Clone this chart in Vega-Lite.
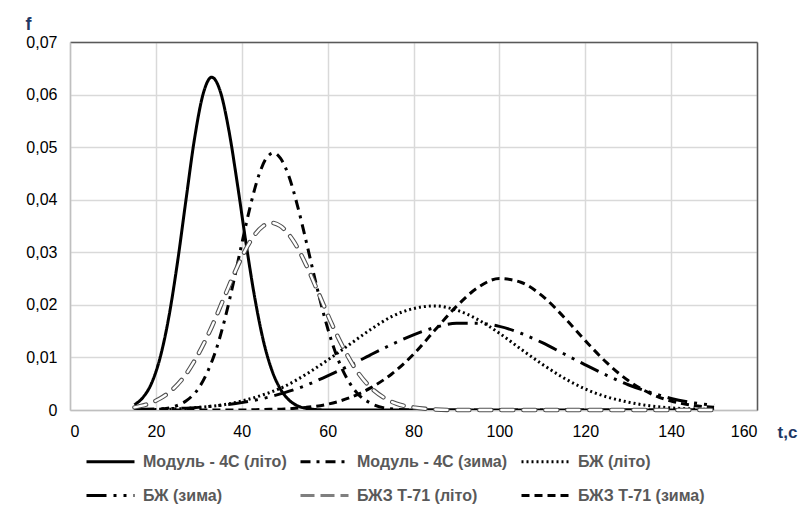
{
  "$schema": "https://vega.github.io/schema/vega-lite/v6.json",
  "width": 687,
  "height": 368,
  "autosize": {"type": "none"},
  "padding": {"left": 70, "top": 42, "right": 50, "bottom": 102},
  "background": "white",
  "config": {
    "view": {"stroke": null},
    "font": "Liberation Sans",
    "axis": {"ticks": false, "labelFontSize": 16, "labelColor": "#000000", "labelFont": "Liberation Sans", "gridColor": "#d9d9d9", "gridWidth": 1.5, "domainColor": "#bfbfbf", "domainWidth": 1.5},
    "legend": {"orient": "none", "direction": "horizontal", "legendX": 15, "legendY": 394, "columns": 3, "columnPadding": 7, "rowPadding": -28, "symbolType": "stroke", "symbolSize": 2304, "labelFontSize": 16, "labelFontWeight": "bold", "labelColor": "#595959", "labelOffset": 7, "labelLimit": 400, "title": null}
  },
  "data": {"values": [
    {"series": "Модуль - 4С (літо)", "t": 15, "f": 0.0010},
    {"series": "Модуль - 4С (літо)", "t": 17, "f": 0.0024},
    {"series": "Модуль - 4С (літо)", "t": 19, "f": 0.0051},
    {"series": "Модуль - 4С (літо)", "t": 21, "f": 0.0100},
    {"series": "Модуль - 4С (літо)", "t": 23, "f": 0.0176},
    {"series": "Модуль - 4С (літо)", "t": 25, "f": 0.0279},
    {"series": "Модуль - 4С (літо)", "t": 27, "f": 0.0399},
    {"series": "Модуль - 4С (літо)", "t": 29, "f": 0.0516},
    {"series": "Модуль - 4С (літо)", "t": 31, "f": 0.0601},
    {"series": "Модуль - 4С (літо)", "t": 33, "f": 0.0633},
    {"series": "Модуль - 4С (літо)", "t": 35, "f": 0.0606},
    {"series": "Модуль - 4С (літо)", "t": 37, "f": 0.0532},
    {"series": "Модуль - 4С (літо)", "t": 39, "f": 0.0429},
    {"series": "Модуль - 4С (літо)", "t": 41, "f": 0.0317},
    {"series": "Модуль - 4С (літо)", "t": 43, "f": 0.0215},
    {"series": "Модуль - 4С (літо)", "t": 45, "f": 0.0133},
    {"series": "Модуль - 4С (літо)", "t": 47, "f": 0.0076},
    {"series": "Модуль - 4С (літо)", "t": 49, "f": 0.0040},
    {"series": "Модуль - 4С (літо)", "t": 51, "f": 0.0019},
    {"series": "Модуль - 4С (літо)", "t": 53, "f": 0.0008},
    {"series": "Модуль - 4С (літо)", "t": 56, "f": 0.0002},
    {"series": "Модуль - 4С (літо)", "t": 60, "f": 0},
    {"series": "Модуль - 4С (літо)", "t": 70, "f": 0},
    {"series": "Модуль - 4С (літо)", "t": 80, "f": 0},
    {"series": "Модуль - 4С (літо)", "t": 90, "f": 0},
    {"series": "Модуль - 4С (літо)", "t": 100, "f": 0},
    {"series": "Модуль - 4С (літо)", "t": 110, "f": 0},
    {"series": "Модуль - 4С (літо)", "t": 120, "f": 0},
    {"series": "Модуль - 4С (літо)", "t": 130, "f": 0},
    {"series": "Модуль - 4С (літо)", "t": 140, "f": 0},
    {"series": "Модуль - 4С (літо)", "t": 150, "f": 0},

    {"series": "Модуль - 4С (зима)", "t": 15, "f": 0},
    {"series": "Модуль - 4С (зима)", "t": 20, "f": 0.0001},
    {"series": "Модуль - 4С (зима)", "t": 24, "f": 0.0006},
    {"series": "Модуль - 4С (зима)", "t": 27, "f": 0.0017},
    {"series": "Модуль - 4С (зима)", "t": 30, "f": 0.0042},
    {"series": "Модуль - 4С (зима)", "t": 32, "f": 0.0072},
    {"series": "Модуль - 4С (зима)", "t": 34, "f": 0.0114},
    {"series": "Модуль - 4С (зима)", "t": 36, "f": 0.0171},
    {"series": "Модуль - 4С (зима)", "t": 38, "f": 0.0240},
    {"series": "Модуль - 4С (зима)", "t": 40, "f": 0.0316},
    {"series": "Модуль - 4С (зима)", "t": 42, "f": 0.0388},
    {"series": "Модуль - 4С (зима)", "t": 44, "f": 0.0447},
    {"series": "Модуль - 4С (зима)", "t": 46, "f": 0.0482},
    {"series": "Модуль - 4С (зима)", "t": 47.5, "f": 0.0489},
    {"series": "Модуль - 4С (зима)", "t": 49, "f": 0.0479},
    {"series": "Модуль - 4С (зима)", "t": 51, "f": 0.0444},
    {"series": "Модуль - 4С (зима)", "t": 53, "f": 0.0388},
    {"series": "Модуль - 4С (зима)", "t": 55, "f": 0.0321},
    {"series": "Модуль - 4С (зима)", "t": 57, "f": 0.0251},
    {"series": "Модуль - 4С (зима)", "t": 59, "f": 0.0185},
    {"series": "Модуль - 4С (зима)", "t": 61, "f": 0.0129},
    {"series": "Модуль - 4С (зима)", "t": 63, "f": 0.0085},
    {"series": "Модуль - 4С (зима)", "t": 65, "f": 0.0053},
    {"series": "Модуль - 4С (зима)", "t": 67, "f": 0.0031},
    {"series": "Модуль - 4С (зима)", "t": 70, "f": 0.0013},
    {"series": "Модуль - 4С (зима)", "t": 74, "f": 0.0003},
    {"series": "Модуль - 4С (зима)", "t": 80, "f": 0},
    {"series": "Модуль - 4С (зима)", "t": 90, "f": 0},
    {"series": "Модуль - 4С (зима)", "t": 100, "f": 0},
    {"series": "Модуль - 4С (зима)", "t": 110, "f": 0},
    {"series": "Модуль - 4С (зима)", "t": 120, "f": 0},
    {"series": "Модуль - 4С (зима)", "t": 130, "f": 0},
    {"series": "Модуль - 4С (зима)", "t": 140, "f": 0},
    {"series": "Модуль - 4С (зима)", "t": 150, "f": 0},

    {"series": "БЖ (літо)", "t": 15, "f": 0.0001},
    {"series": "БЖ (літо)", "t": 20, "f": 0.0001},
    {"series": "БЖ (літо)", "t": 25, "f": 0.0002},
    {"series": "БЖ (літо)", "t": 30, "f": 0.0005},
    {"series": "БЖ (літо)", "t": 35, "f": 0.0009},
    {"series": "БЖ (літо)", "t": 40, "f": 0.0017},
    {"series": "БЖ (літо)", "t": 45, "f": 0.0029},
    {"series": "БЖ (літо)", "t": 50, "f": 0.0045},
    {"series": "БЖ (літо)", "t": 55, "f": 0.0068},
    {"series": "БЖ (літо)", "t": 60, "f": 0.0095},
    {"series": "БЖ (літо)", "t": 65, "f": 0.0124},
    {"series": "БЖ (літо)", "t": 70, "f": 0.0153},
    {"series": "БЖ (літо)", "t": 75, "f": 0.0178},
    {"series": "БЖ (літо)", "t": 80, "f": 0.0193},
    {"series": "БЖ (літо)", "t": 85, "f": 0.0198},
    {"series": "БЖ (літо)", "t": 90, "f": 0.0190},
    {"series": "БЖ (літо)", "t": 95, "f": 0.0172},
    {"series": "БЖ (літо)", "t": 100, "f": 0.0146},
    {"series": "БЖ (літо)", "t": 105, "f": 0.0116},
    {"series": "БЖ (літо)", "t": 110, "f": 0.0087},
    {"series": "БЖ (літо)", "t": 115, "f": 0.0061},
    {"series": "БЖ (літо)", "t": 120, "f": 0.0040},
    {"series": "БЖ (літо)", "t": 125, "f": 0.0025},
    {"series": "БЖ (літо)", "t": 130, "f": 0.0015},
    {"series": "БЖ (літо)", "t": 135, "f": 0.0008},
    {"series": "БЖ (літо)", "t": 140, "f": 0.0004},
    {"series": "БЖ (літо)", "t": 145, "f": 0.0002},
    {"series": "БЖ (літо)", "t": 150, "f": 0.0001},

    {"series": "БЖ (зима)", "t": 15, "f": 0.0001},
    {"series": "БЖ (зима)", "t": 20, "f": 0.0002},
    {"series": "БЖ (зима)", "t": 25, "f": 0.0003},
    {"series": "БЖ (зима)", "t": 30, "f": 0.0005},
    {"series": "БЖ (зима)", "t": 35, "f": 0.0009},
    {"series": "БЖ (зима)", "t": 40, "f": 0.0014},
    {"series": "БЖ (зима)", "t": 45, "f": 0.0022},
    {"series": "БЖ (зима)", "t": 50, "f": 0.0033},
    {"series": "БЖ (зима)", "t": 55, "f": 0.0047},
    {"series": "БЖ (зима)", "t": 60, "f": 0.0065},
    {"series": "БЖ (зима)", "t": 65, "f": 0.0084},
    {"series": "БЖ (зима)", "t": 70, "f": 0.0105},
    {"series": "БЖ (зима)", "t": 75, "f": 0.0125},
    {"series": "БЖ (зима)", "t": 80, "f": 0.0143},
    {"series": "БЖ (зима)", "t": 85, "f": 0.0157},
    {"series": "БЖ (зима)", "t": 90, "f": 0.0165},
    {"series": "БЖ (зима)", "t": 95, "f": 0.0165},
    {"series": "БЖ (зима)", "t": 100, "f": 0.0159},
    {"series": "БЖ (зима)", "t": 105, "f": 0.0146},
    {"series": "БЖ (зима)", "t": 110, "f": 0.0128},
    {"series": "БЖ (зима)", "t": 115, "f": 0.0107},
    {"series": "БЖ (зима)", "t": 120, "f": 0.0086},
    {"series": "БЖ (зима)", "t": 125, "f": 0.0066},
    {"series": "БЖ (зима)", "t": 130, "f": 0.0048},
    {"series": "БЖ (зима)", "t": 135, "f": 0.0034},
    {"series": "БЖ (зима)", "t": 140, "f": 0.0022},
    {"series": "БЖ (зима)", "t": 145, "f": 0.0014},
    {"series": "БЖ (зима)", "t": 150, "f": 0.0009},

    {"series": "БЖЗ Т-71 (літо)", "t": 15, "f": 0.0005},
    {"series": "БЖЗ Т-71 (літо)", "t": 18, "f": 0.0011},
    {"series": "БЖЗ Т-71 (літо)", "t": 21, "f": 0.0022},
    {"series": "БЖЗ Т-71 (літо)", "t": 24, "f": 0.0040},
    {"series": "БЖЗ Т-71 (літо)", "t": 27, "f": 0.0068},
    {"series": "БЖЗ Т-71 (літо)", "t": 30, "f": 0.0108},
    {"series": "БЖЗ Т-71 (літо)", "t": 33, "f": 0.0158},
    {"series": "БЖЗ Т-71 (літо)", "t": 36, "f": 0.0216},
    {"series": "БЖЗ Т-71 (літо)", "t": 39, "f": 0.0273},
    {"series": "БЖЗ Т-71 (літо)", "t": 42, "f": 0.0321},
    {"series": "БЖЗ Т-71 (літо)", "t": 45, "f": 0.0350},
    {"series": "БЖЗ Т-71 (літо)", "t": 47, "f": 0.0356},
    {"series": "БЖЗ Т-71 (літо)", "t": 49, "f": 0.0350},
    {"series": "БЖЗ Т-71 (літо)", "t": 52, "f": 0.0322},
    {"series": "БЖЗ Т-71 (літо)", "t": 55, "f": 0.0276},
    {"series": "БЖЗ Т-71 (літо)", "t": 58, "f": 0.0220},
    {"series": "БЖЗ Т-71 (літо)", "t": 61, "f": 0.0163},
    {"series": "БЖЗ Т-71 (літо)", "t": 64, "f": 0.0113},
    {"series": "БЖЗ Т-71 (літо)", "t": 67, "f": 0.0072},
    {"series": "БЖЗ Т-71 (літо)", "t": 70, "f": 0.0043},
    {"series": "БЖЗ Т-71 (літо)", "t": 73, "f": 0.0024},
    {"series": "БЖЗ Т-71 (літо)", "t": 76, "f": 0.0012},
    {"series": "БЖЗ Т-71 (літо)", "t": 80, "f": 0.0005},
    {"series": "БЖЗ Т-71 (літо)", "t": 85, "f": 0.0001},
    {"series": "БЖЗ Т-71 (літо)", "t": 90, "f": 0},
    {"series": "БЖЗ Т-71 (літо)", "t": 100, "f": 0},
    {"series": "БЖЗ Т-71 (літо)", "t": 110, "f": 0},
    {"series": "БЖЗ Т-71 (літо)", "t": 120, "f": 0},
    {"series": "БЖЗ Т-71 (літо)", "t": 130, "f": 0},
    {"series": "БЖЗ Т-71 (літо)", "t": 140, "f": 0},
    {"series": "БЖЗ Т-71 (літо)", "t": 150, "f": 0},

    {"series": "БЖЗ Т-71 (зима)", "t": 15, "f": 0},
    {"series": "БЖЗ Т-71 (зима)", "t": 20, "f": 0},
    {"series": "БЖЗ Т-71 (зима)", "t": 25, "f": 0},
    {"series": "БЖЗ Т-71 (зима)", "t": 30, "f": 0},
    {"series": "БЖЗ Т-71 (зима)", "t": 35, "f": 0},
    {"series": "БЖЗ Т-71 (зима)", "t": 40, "f": 0},
    {"series": "БЖЗ Т-71 (зима)", "t": 45, "f": 0.0001},
    {"series": "БЖЗ Т-71 (зима)", "t": 50, "f": 0.0002},
    {"series": "БЖЗ Т-71 (зима)", "t": 55, "f": 0.0005},
    {"series": "БЖЗ Т-71 (зима)", "t": 60, "f": 0.0011},
    {"series": "БЖЗ Т-71 (зима)", "t": 65, "f": 0.0023},
    {"series": "БЖЗ Т-71 (зима)", "t": 70, "f": 0.0042},
    {"series": "БЖЗ Т-71 (зима)", "t": 75, "f": 0.0069},
    {"series": "БЖЗ Т-71 (зима)", "t": 80, "f": 0.0106},
    {"series": "БЖЗ Т-71 (зима)", "t": 85, "f": 0.0152},
    {"series": "БЖЗ Т-71 (зима)", "t": 90, "f": 0.0197},
    {"series": "БЖЗ Т-71 (зима)", "t": 95, "f": 0.0233},
    {"series": "БЖЗ Т-71 (зима)", "t": 100, "f": 0.0250},
    {"series": "БЖЗ Т-71 (зима)", "t": 105, "f": 0.0243},
    {"series": "БЖЗ Т-71 (зима)", "t": 110, "f": 0.0217},
    {"series": "БЖЗ Т-71 (зима)", "t": 115, "f": 0.0177},
    {"series": "БЖЗ Т-71 (зима)", "t": 120, "f": 0.0132},
    {"series": "БЖЗ Т-71 (зима)", "t": 125, "f": 0.0090},
    {"series": "БЖЗ Т-71 (зима)", "t": 130, "f": 0.0056},
    {"series": "БЖЗ Т-71 (зима)", "t": 135, "f": 0.0032},
    {"series": "БЖЗ Т-71 (зима)", "t": 140, "f": 0.0017},
    {"series": "БЖЗ Т-71 (зима)", "t": 145, "f": 0.0009},
    {"series": "БЖЗ Т-71 (зима)", "t": 150, "f": 0.0005}
  ]},
  "layer": [
    {
      "transform": [{"filter": "datum.series != 'БЖЗ Т-71 (літо)'"}],
      "mark": {"type": "line", "interpolate": "monotone", "strokeCap": "butt", "clip": true},
      "encoding": {
        "x": {"field": "t", "type": "quantitative", "scale": {"domain": [0, 160], "nice": false},
          "axis": {"orient": "bottom", "values": [0, 20, 40, 60, 80, 100, 120, 140, 160], "grid": true, "labelPadding": 13,
            "title": "t,c", "titleX": 717, "titleY": 22, "titleAlign": "center", "titleBaseline": "middle", "titleFontSize": 17, "titleFontWeight": "bold", "titleColor": "#1f3864"}},
        "y": {"field": "f", "type": "quantitative", "scale": {"domain": [0, 0.07], "nice": false},
          "axis": {"orient": "left", "values": [0, 0.01, 0.02, 0.03, 0.04, 0.05, 0.06, 0.07], "grid": true, "labelPadding": 13,
            "labelExpr": "datum.value == 0 ? '0' : replace(format(datum.value, '.2f'), '.', ',')",
            "title": "f", "titleAngle": 0, "titleX": -42, "titleY": -18, "titleAlign": "center", "titleBaseline": "middle", "titleFontSize": 18, "titleFontWeight": "bold", "titleColor": "#1f3864"}},
        "color": {"field": "series", "type": "nominal",
          "scale": {"domain": ["Модуль - 4С (літо)", "Модуль - 4С (зима)", "БЖ (літо)", "БЖ (зима)", "БЖЗ Т-71 (літо)", "БЖЗ Т-71 (зима)"],
            "range": ["#000000", "#000000", "#000000", "#000000", "#7f7f7f", "#000000"]}},
        "strokeDash": {"field": "series", "type": "nominal",
          "scale": {"domain": ["Модуль - 4С (літо)", "Модуль - 4С (зима)", "БЖ (літо)", "БЖ (зима)", "БЖЗ Т-71 (літо)", "БЖЗ Т-71 (зима)"],
            "range": [[1, 0], [10, 6, 3, 6], [2, 3], [20, 7, 3, 7, 3, 7], [14, 6], [8, 5]]}},
        "strokeWidth": {"field": "series", "type": "nominal",
          "scale": {"domain": ["Модуль - 4С (літо)", "Модуль - 4С (зима)", "БЖ (літо)", "БЖ (зима)", "БЖЗ Т-71 (літо)", "БЖЗ Т-71 (зима)"],
            "range": [3, 3, 2.5, 3, 4, 3]}}
      }
    },
    {
      "transform": [{"filter": "datum.series == 'БЖЗ Т-71 (літо)'"}],
      "mark": {"type": "line", "interpolate": "monotone", "strokeCap": "round", "color": "#505050", "strokeWidth": 4.5, "strokeDash": [12, 10]},
      "encoding": {
        "x": {"field": "t", "type": "quantitative", "axis": {"orient": "top", "domain": true, "domainColor": "#595959", "domainWidth": 1.5, "labels": false, "grid": false, "title": null}},
        "y": {"field": "f", "type": "quantitative", "axis": {"orient": "right", "domain": true, "domainColor": "#595959", "domainWidth": 1.5, "labels": false, "grid": false, "title": null}}
      }
    },
    {
      "transform": [{"filter": "datum.series == 'БЖЗ Т-71 (літо)'"}],
      "mark": {"type": "line", "interpolate": "monotone", "strokeCap": "round", "color": "#ffffff", "strokeWidth": 2.4, "strokeDash": [12, 10]},
      "encoding": {
        "x": {"field": "t", "type": "quantitative", "axis": null},
        "y": {"field": "f", "type": "quantitative", "axis": null}
      }
    }
  ],
  "resolve": {"axis": {"x": "independent", "y": "independent"}}
}
